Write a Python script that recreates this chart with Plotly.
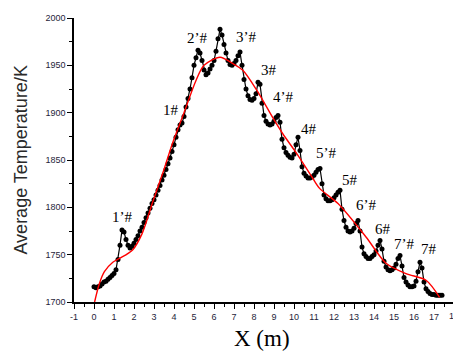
import plotly.graph_objects as go

# measured profile (black dots)
x_meas = [0.0, 0.1, 0.2, 0.3, 0.4, 0.5, 0.6, 0.7, 0.8, 0.9,
          1.0, 1.1, 1.2, 1.3, 1.4, 1.5, 1.6, 1.7, 1.8, 1.9,
          2.0, 2.1, 2.2, 2.3, 2.4, 2.5, 2.6, 2.7, 2.8, 2.9,
          3.0, 3.1, 3.2, 3.3, 3.4, 3.5, 3.6, 3.7, 3.8, 3.9,
          4.0, 4.1, 4.2, 4.3, 4.4, 4.5, 4.6, 4.7, 4.8, 4.9,
          5.0, 5.1, 5.2, 5.3, 5.4, 5.5, 5.6, 5.7, 5.8, 5.9,
          6.0, 6.1, 6.2, 6.3, 6.4, 6.5, 6.6, 6.7, 6.8, 6.9,
          7.0, 7.1, 7.2, 7.3, 7.4, 7.5, 7.6, 7.7, 7.8, 7.9,
          8.0, 8.1, 8.2, 8.3, 8.4, 8.5, 8.6, 8.7, 8.8, 8.9,
          9.0, 9.1, 9.2, 9.3, 9.4, 9.5, 9.6, 9.7, 9.8, 9.9,
          10.0, 10.1, 10.2, 10.3, 10.4, 10.5, 10.6, 10.7, 10.8, 10.9,
          11.0, 11.1, 11.2, 11.3, 11.4, 11.5, 11.6, 11.7, 11.8, 11.9,
          12.0, 12.1, 12.2, 12.3, 12.4, 12.5, 12.6, 12.7, 12.8, 12.9,
          13.0, 13.1, 13.2, 13.3, 13.4, 13.5, 13.6, 13.7, 13.8, 13.9,
          14.0, 14.1, 14.2, 14.3, 14.4, 14.5, 14.6, 14.7, 14.8, 14.9,
          15.0, 15.1, 15.2, 15.3, 15.4, 15.5, 15.6, 15.7, 15.8, 15.9,
          16.0, 16.1, 16.2, 16.3, 16.4, 16.5, 16.6, 16.7, 16.8, 16.9,
          17.0, 17.1, 17.2, 17.3, 17.4]
t_meas = [1716, 1715, 1716, 1717, 1719, 1721, 1722, 1724, 1726, 1728,
          1730, 1734, 1745, 1760, 1776, 1774, 1766, 1760, 1757, 1759,
          1762, 1766, 1770, 1775, 1779, 1784, 1789, 1794, 1799, 1804,
          1808, 1813, 1818, 1823, 1829, 1834, 1840, 1846, 1852, 1859,
          1866, 1874, 1882, 1887, 1889, 1896, 1906, 1915, 1925, 1937,
          1950, 1958, 1966, 1963, 1955, 1945, 1940, 1942, 1946, 1950,
          1955, 1965, 1978, 1988, 1982, 1972, 1963, 1955, 1951, 1950,
          1952, 1955, 1960, 1964, 1950, 1935, 1925, 1918, 1914, 1913,
          1915, 1920, 1932, 1930, 1910, 1897, 1891, 1888, 1887, 1888,
          1891, 1895, 1897, 1890, 1872, 1863, 1858, 1855, 1853, 1852,
          1856, 1866, 1874, 1860, 1843, 1836, 1833, 1831, 1831, 1832,
          1834, 1837, 1840, 1841, 1825, 1813, 1809, 1807, 1807, 1808,
          1810, 1813, 1816, 1818, 1798, 1786, 1779, 1775, 1774, 1775,
          1778, 1783, 1786, 1775, 1758, 1751, 1748, 1746, 1746, 1748,
          1750, 1754, 1760, 1765, 1756, 1743, 1737, 1734, 1733, 1734,
          1736, 1740, 1746, 1749, 1738, 1726, 1721, 1718, 1716, 1716,
          1717, 1722, 1732, 1742, 1736, 1721, 1714, 1711, 1709, 1708,
          1708, 1707, 1707, 1707, 1707]

# fitted curve (red)
x_fit = [0.03, 0.27, 0.52, 0.94, 1.27, 1.93, 2.4, 2.94, 3.5, 3.93, 4.5, 5.1,
         5.5, 6.3, 6.93, 7.43, 8.13, 8.93, 9.43, 10.13, 10.93, 11.28, 12.2,
         13.6, 14.6, 15.6, 16.6, 17.28]
t_fit = [1700, 1719.5, 1732, 1742, 1746, 1755, 1772, 1806, 1840, 1868, 1900,
         1934, 1950, 1958.5, 1952, 1945, 1924, 1895, 1878, 1857, 1831, 1820,
         1804, 1768.7, 1741, 1730, 1723, 1705]

# peak labels
label_text = ["1\u2019#", "1#", "2\u2019#", "2#", "3\u2019#", "3#", "4\u2019#",
              "4#", "5\u2019#", "5#", "6\u2019#", "6#", "7\u2019#", "7#"]
label_x = [1.39, 3.83, 5.17, 6.39, 7.6, 8.74, 9.44, 10.74, 11.58, 12.78,
           13.58, 14.44, 15.48, 16.74]
label_t = [1790, 1903, 1979, 2003, 1980, 1945, 1917, 1883, 1857, 1829,
           1802, 1777.6, 1761.7, 1756.5]

x_ticks = list(range(-1, 18))
y_ticks = [1700, 1750, 1800, 1850, 1900, 1950, 2000]

SANS = "Arial, Liberation Sans, sans-serif"
SERIF = "Liberation Serif, Times New Roman, serif"

fig = go.Figure()
fig.add_trace(go.Scatter(
    x=x_meas, y=t_meas, mode="lines+markers",
    line=dict(color="black", width=1.2),
    marker=dict(color="black", size=5, symbol="circle"),
    showlegend=False, hoverinfo="skip"))
fig.add_trace(go.Scatter(
    x=x_fit, y=t_fit, mode="lines",
    line=dict(color="red", width=1.4, shape="spline", smoothing=0.8),
    showlegend=False, hoverinfo="skip"))

for txt, lx, ly in zip(label_text, label_x, label_t):
    fig.add_annotation(x=lx, y=ly, text=txt, showarrow=False,
                       font=dict(family=SERIF, size=15, color="black"),
                       xanchor="center", yanchor="middle")

# partially visible last tick label
fig.add_annotation(xref="paper", yref="paper", x=1.0026, y=-0.05, text="18",
                   showarrow=False, xanchor="center", yanchor="middle",
                   font=dict(family=SANS, size=9, color="#1e1e3a"))

# axis titles
fig.add_annotation(xref="paper", yref="paper", x=0.496, y=-0.13,
                   text="X (m)", showarrow=False, xanchor="center",
                   yanchor="middle", font=dict(family=SERIF, size=23,
                                               color="black"))
fig.add_annotation(xref="paper", yref="paper", x=-0.141, y=0.5,
                   text="Average Temperature/K", showarrow=False,
                   textangle=-90, xanchor="center", yanchor="middle",
                   font=dict(family=SANS, size=18, color="#2a2a2a"))

fig.update_layout(
    width=453, height=351,
    margin=dict(l=74, r=0, t=18, b=49, autoexpand=False),
    paper_bgcolor="white", plot_bgcolor="white",
    hovermode=False,
    xaxis=dict(
        range=[-1, 17.95], tickvals=x_ticks, ticktext=[str(v) for v in x_ticks],
        automargin=False,
        showgrid=False, zeroline=False, showline=True, linecolor="black",
        linewidth=1.5, ticks="outside", ticklen=5, tickwidth=1.2,
        tickcolor="black",
        minor=dict(dtick=0.5, tick0=-1, ticks="outside", ticklen=3,
                   tickwidth=1, tickcolor="black", showgrid=False),
        tickfont=dict(family=SANS, size=9, color="#1e1e3a"),
    ),
    yaxis=dict(
        range=[1700, 2000], tickvals=y_ticks, automargin=False,
        showgrid=False, zeroline=False, showline=True, linecolor="black",
        linewidth=1.5, ticks="outside", ticklen=5, tickwidth=1.2,
        tickcolor="black",
        minor=dict(dtick=25, tick0=1700, ticks="outside", ticklen=3,
                   tickwidth=1, tickcolor="black", showgrid=False),
        tickfont=dict(family=SANS, size=9, color="#1e1e3a"),
    ),
)

fig.write_html("out.html",
               config={"displayModeBar": False},
               post_script="document.body.style.margin='0';"
                           "document.body.style.overflow='hidden';")
